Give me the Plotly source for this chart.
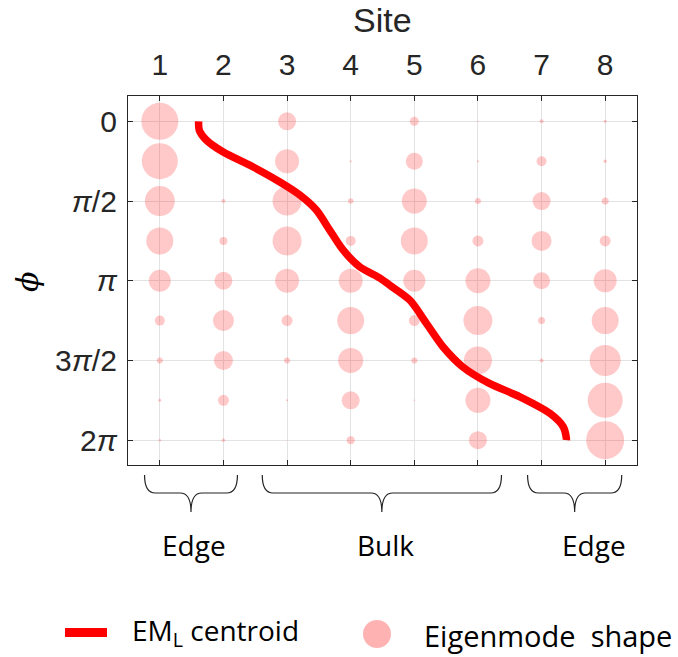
import math
import plotly.graph_objects as go

# ---------------- data ----------------
sites = [1, 2, 3, 4, 5, 6, 7, 8]
site_labels = ["1", "2", "3", "4", "5", "6", "7", "8"]
phi_rows = [0, 0.25, 0.5, 0.75, 1.0, 1.25, 1.5, 1.75, 2.0]   # in units of pi

# eigenmode amplitude per site (bubble diameter), rows follow phi_rows
w_site1 = [37, 36, 30, 27, 22, 10, 6, 3, 2.5]
w_site2 = [0, 0, 4, 8, 18, 21, 19, 11, 3.5]
w_site3 = [18, 24, 29, 29, 24, 11, 6, 2, 1]
w_site4 = [0, 2, 5.5, 10, 24, 27, 25, 18, 8]
w_site5 = [9, 17, 25, 27, 22, 11, 6, 1.5, 0]
w_site6 = [1.5, 2, 6, 11, 25, 29, 28, 25, 18]
w_site7 = [4, 10, 18, 20, 17, 7, 4, 1, 0]
w_site8 = [3, 3.5, 7, 11, 23, 27, 31, 35, 38]

# EM_L centroid curve
centroid_site = [1.61, 1.62, 1.73, 1.99, 2.46, 2.88, 3.20, 3.46, 3.67, 3.88,
                 4.14, 4.46, 4.61, 4.93, 5.19, 5.45, 5.76, 6.18, 6.66, 7.13,
                 7.34, 7.39, 7.39]
centroid_phi = [0.0, 0.055, 0.117, 0.191, 0.285, 0.379, 0.462, 0.556, 0.682, 0.807,
                0.912, 0.983, 1.027, 1.122, 1.267, 1.414, 1.540, 1.644, 1.728, 1.832,
                1.916, 1.989, 2.0]

ytick_vals = [0, 0.5, 1.0, 1.5, 2.0]  # units of pi
ytick_text = ["0", "<i>π</i>/2", "<i>π</i>", "3<i>π</i>/2", "2<i>π</i>"]

regions = ["Edge", "Bulk", "Edge"]
region_span = [(0.76, 2.22), (2.61, 6.37), (6.78, 8.26)]
region_text_x = [1.53, 4.55, 7.83]

# ---------------- figure ----------------
W, H = 678, 657
L, R, T, B = 128, 41, 96, 192
pw, ph = W - L - R, H - T - B

def px2py(py):
    return (H - B - py) / ph

def px2px(px):
    return (px - L) / pw

weights = [w_site1, w_site2, w_site3, w_site4, w_site5, w_site6, w_site7, w_site8]
bx, by, bs = [], [], []
for s, wl in zip(sites, weights):
    for p, w in zip(phi_rows, wl):
        bx.append(s)
        by.append(p * math.pi)
        bs.append(w)

fig = go.Figure()
fig.add_trace(go.Scatter(
    x=bx, y=by, mode="markers",
    marker=dict(size=bs, sizemode="diameter", color="rgba(255,0,0,0.3)",
                line=dict(width=0)),
    name="Eigenmode shape", showlegend=False, hoverinfo="skip"))
fig.add_trace(go.Scatter(
    x=centroid_site, y=[p * math.pi for p in centroid_phi], mode="lines",
    line=dict(color="#ff0000", width=7.5, shape="spline", smoothing=0.8),
    name="EM centroid", showlegend=False, hoverinfo="skip"))

axis_col = "#262626"
fig.update_xaxes(
    range=[0.5, 8.5], side="top", tickmode="array", tickvals=sites, ticktext=site_labels,
    showgrid=True, gridcolor="#e3e3e3", gridwidth=1, zeroline=False,
    showline=True, linecolor=axis_col, linewidth=1.2, mirror="ticks",
    ticks="inside", ticklen=5, tickcolor=axis_col, tickwidth=1.2,
    tickfont=dict(family="Liberation Sans", size=30, color=axis_col),
    ticklabelstandoff=8)
fig.update_yaxes(
    range=[2 * math.pi + 0.49, -0.5], tickmode="array",
    tickvals=[v * math.pi for v in ytick_vals], ticktext=ytick_text,
    showgrid=True, gridcolor="#e3e3e3", gridwidth=1, zeroline=False,
    showline=True, linecolor=axis_col, linewidth=1.2, mirror="ticks",
    ticks="inside", ticklen=5, tickcolor=axis_col, tickwidth=1.2,
    tickfont=dict(family="Liberation Sans", size=30, color=axis_col),
    ticklabelstandoff=4)

shapes = []
annotations = []

# braces below the axes
top, mid, tip = px2py(475), px2py(493), px2py(512)
for (x0, x1) in region_span:
    xc = (x0 + x1) / 2
    r = 0.17
    path = (f"M {x0},{top} Q {x0},{mid} {x0 + r},{mid} L {xc - r},{mid} "
            f"Q {xc},{mid} {xc},{tip} Q {xc},{mid} {xc + r},{mid} "
            f"L {x1 - r},{mid} Q {x1},{mid} {x1},{top}")
    shapes.append(dict(type="path", path=path, xref="x", yref="paper",
                       line=dict(color="#222222", width=1.2)))
for txt, xc in zip(regions, region_text_x):
    annotations.append(dict(text=txt, x=xc, xref="x", y=px2py(545), yref="paper",
                            xanchor="center", yanchor="middle", showarrow=False,
                            font=dict(family="Open Sans", size=28, color="#000000")))

# titles
annotations.append(dict(text="Site", x=0.5, xref="paper", y=px2py(20), yref="paper",
                        xanchor="center", yanchor="middle", showarrow=False,
                        font=dict(family="Liberation Sans", size=34, color=axis_col)))
annotations.append(dict(text="<i>ϕ</i>", x=px2px(27), xref="paper", y=px2py(282), yref="paper",
                        xanchor="center", yanchor="middle", showarrow=False, textangle=-90,
                        font=dict(family="DejaVu Serif", size=30, color="#000000")))

# legend (drawn manually)
shapes.append(dict(type="line", xref="paper", yref="paper",
                   x0=px2px(65), x1=px2px(107), y0=px2py(632.5), y1=px2py(632.5),
                   line=dict(color="#ff0000", width=9)))
shapes.append(dict(type="circle", xref="paper", yref="paper",
                   x0=px2px(363), x1=px2px(391), y0=px2py(620), y1=px2py(648),
                   fillcolor="rgba(255,0,0,0.3)", line=dict(width=0)))
annotations.append(dict(text="EM<sub>L</sub> centroid", x=px2px(130), xref="paper",
                        y=px2py(632), yref="paper", xanchor="left", yanchor="middle",
                        showarrow=False,
                        font=dict(family="Open Sans", size=28, color="#000000")))
annotations.append(dict(text="Eigenmode\u00a0 shape", x=px2px(422), xref="paper",
                        y=px2py(635), yref="paper", xanchor="left", yanchor="middle",
                        showarrow=False,
                        font=dict(family="Open Sans", size=29, color="#000000")))

fig.update_layout(
    width=W, height=H, margin=dict(l=L, r=R, t=T, b=B, autoexpand=False),
    paper_bgcolor="white", plot_bgcolor="white",
    shapes=shapes, annotations=annotations, showlegend=False)

fig.write_html("out.html")
